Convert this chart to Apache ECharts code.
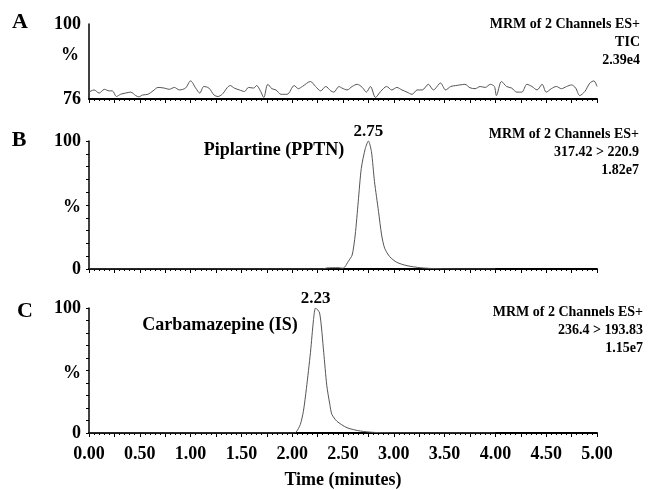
<!DOCTYPE html>
<html>
<head>
<meta charset="utf-8">
<script src="https://cdn.jsdelivr.net/npm/echarts@6/dist/echarts.min.js"></script>
<style>
  html, body { margin: 0; padding: 0; background: #fff; }
  #chart { width: 649px; height: 490px; }
</style>
</head>
<body>
<div id="chart"></div>
<script>
// 色谱数据（从图上读出来的）
var timeA = [0.00, 0.05, 0.10, 0.15, 0.20, 0.23, 0.27, 0.31, 0.36, 0.41, 0.46, 0.49, 0.53, 0.58, 0.63, 0.68, 0.74, 0.79, 0.84, 0.89,
  0.95, 1.00, 1.05, 1.09, 1.13, 1.18, 1.23, 1.27, 1.31, 1.39, 1.43, 1.48, 1.53, 1.57, 1.62, 1.65, 1.69, 1.72, 1.76, 1.80,
  1.84, 1.89, 1.95, 2.02, 2.06, 2.10, 2.18, 2.23, 2.28, 2.33, 2.38, 2.41, 2.46, 2.49, 2.54, 2.59, 2.64, 2.69, 2.73, 2.77,
  2.82, 2.87, 2.93, 2.98, 3.03, 3.08, 3.13, 3.18, 3.23, 3.28, 3.34, 3.39, 3.46, 3.51, 3.56, 3.61, 3.65, 3.70, 3.75, 3.80,
  3.85, 3.90, 3.95, 3.99, 4.01, 4.06, 4.11, 4.16, 4.21, 4.26, 4.31, 4.36, 4.41, 4.46, 4.50, 4.55, 4.60, 4.65, 4.70, 4.75,
  4.79, 4.83, 4.88, 4.93, 4.97, 5.00];
var ticA = [78.2, 78.9, 77.9, 79.1, 78.6, 78.6, 76.8, 77.5, 77.9, 78.2, 77.1, 76.7, 77.3, 77.5, 78.6, 79.7, 79.5, 79.1, 79.7, 78.9,
  79.5, 81.8, 79.5, 77.9, 80.0, 79.5, 77.3, 76.8, 77.5, 80.3, 79.5, 78.9, 78.4, 79.7, 79.5, 80.3, 78.4, 76.5, 80.7, 79.3,
  78.9, 77.5, 77.5, 80.3, 79.3, 80.0, 81.6, 80.0, 78.6, 80.0, 78.6, 78.2, 80.0, 79.5, 78.9, 80.0, 80.7, 79.7, 78.2, 80.0,
  76.5, 78.4, 80.0, 78.9, 79.7, 78.9, 78.2, 77.5, 78.9, 78.9, 80.7, 78.9, 81.1, 78.9, 80.0, 80.3, 80.5, 80.7, 79.6, 79.3,
  80.0, 79.7, 80.7, 80.0, 77.1, 81.6, 80.0, 79.5, 78.2, 78.2, 80.7, 80.0, 78.9, 80.7, 78.2, 79.3, 80.0, 79.3, 80.0, 80.5,
  79.5, 77.1, 78.4, 81.1, 81.8, 80.0];

var timeB = [0.00, 2.30, 2.34, 2.45, 2.50, 2.52, 2.55, 2.59, 2.62, 2.65, 2.68, 2.72, 2.75, 2.78, 2.81, 2.85, 2.88, 2.91, 2.96, 3.03,
  3.13, 3.26, 3.40, 3.60, 4.00];
var pptnB = [0, 0, 0.8, 1.0, 0.6, 1.8, 5.7, 10.9, 26.6, 52.6, 78.6, 94.3, 100, 91.6, 68.2, 44.8, 26.6, 16.2, 9.6, 5.2,
  2.6, 1.0, 0.3, 0, 0];

var timeC = [0.00, 2.02, 2.04, 2.08, 2.11, 2.14, 2.18, 2.21, 2.23, 2.27, 2.31, 2.34, 2.37, 2.39, 2.44, 2.54, 2.67, 2.80, 3.00, 4.00];
var isC = [0, 0, 0.8, 6.8, 17.3, 35.7, 64.6, 90.8, 100, 96, 64.6, 38.3, 23, 15, 9.4, 4.2, 1.6, 0.5, 0.1, 0];

var peakB = [2.75, 100];
var peakC = [2.23, 100];
var xLabelStep = 0.5;
var infoA = ['MRM of 2 Channels ES+', 'TIC', '2.39e4'];
var infoB = ['MRM of 2 Channels ES+', '317.42 > 220.9', '1.82e7'];
var infoC = ['MRM of 2 Channels ES+', '236.4 > 193.83', '1.15e7'];

var FONT = "'Liberation Serif', 'Times New Roman', serif";

function pairs(xs, ys) {
  return xs.map(function (x, i) { return [x, ys[i]]; });
}

var chart = echarts.init(document.getElementById('chart'));

function xAxisOf(idx, showLabel) {
  return {
    type: 'value', gridIndex: idx, min: 0, max: 5, interval: 0.25,
    axisLine: { show: true, onZero: false, lineStyle: { color: '#000', width: 2 } },
    axisTick: { show: true, length: 4, lineStyle: { color: '#000', width: 1 } },
    minorTick: { show: true, splitNumber: 5, length: 2, lineStyle: { color: '#000', width: 1 } },
    splitLine: { show: false },
    axisLabel: {
      show: showLabel, margin: 12, color: '#000', fontFamily: FONT, fontWeight: 'bold', fontSize: 18,
      formatter: function (v) {
        return Math.abs(v / xLabelStep - Math.round(v / xLabelStep)) < 1e-6 ? v.toFixed(2) : '';
      }
    }
  };
}

function yAxisOf(idx, min, max, interval, showTick) {
  return {
    type: 'value', gridIndex: idx, min: min, max: max, interval: interval,
    axisLine: { show: true, lineStyle: { color: '#000', width: 1.5 } },
    axisTick: { show: showTick, length: 3, lineStyle: { color: '#000' } },
    splitLine: { show: false },
    axisLabel: {
      margin: 8, color: '#000', fontFamily: FONT, fontWeight: 'bold', fontSize: 18,
      formatter: function (v) { return (v === min || v === max) ? String(v) : ''; }
    }
  };
}

function label(x, y, s, size, align) {
  return {
    type: 'text', x: x, y: y,
    style: {
      text: s, fill: '#000', font: 'bold ' + size + 'px ' + FONT,
      textAlign: align || 'center', textVerticalAlign: 'middle'
    }
  };
}

function info(lines, right, y0) {
  return lines.map(function (s, i) {
    return label(right, y0 + i * 18, s, 14, 'right');
  });
}

var xAxisC = xAxisOf(2, true);
xAxisC.name = 'Time (minutes)';
xAxisC.nameLocation = 'middle';
xAxisC.nameGap = 38;
xAxisC.nameTextStyle = { color: '#000', fontFamily: FONT, fontWeight: 'bold', fontSize: 18 };

var lineStyle = { color: '#555', width: 1 };

function peakMark(pt) {
  return {
    symbol: 'circle', symbolSize: 0,
    label: {
      show: true, position: 'top', distance: 1, color: '#000', fontFamily: FONT, fontWeight: 'bold', fontSize: 17,
      formatter: function (p) { return p.value; }
    },
    data: [{ coord: pt, value: pt[0].toFixed(2) }]
  };
}

var option = {
  animation: false,
  backgroundColor: '#fff',
  grid: [
    { left: 89, right: 52, top: 24, height: 75 },
    { left: 89, right: 52, top: 141, height: 128 },
    { left: 89, right: 52, top: 308, height: 127 }
  ],
  xAxis: [xAxisOf(0, false), xAxisOf(1, false), xAxisC],
  yAxis: [yAxisOf(0, 76, 100, 24, false), yAxisOf(1, 0, 100, 10, true), yAxisOf(2, 0, 100, 10, true)],
  series: [
    {
      type: 'line', xAxisIndex: 0, yAxisIndex: 0, data: pairs(timeA, ticA),
      showSymbol: false, smooth: 0.3, lineStyle: lineStyle
    },
    {
      type: 'line', xAxisIndex: 1, yAxisIndex: 1, data: pairs(timeB, pptnB),
      showSymbol: false, smooth: 0.25, lineStyle: lineStyle,
      markPoint: peakMark(peakB)
    },
    {
      type: 'line', xAxisIndex: 2, yAxisIndex: 2, data: pairs(timeC, isC),
      showSymbol: false, smooth: 0.25, lineStyle: lineStyle,
      markPoint: peakMark(peakC)
    }
  ],
  graphic: [
    label(20, 22, 'A', 22),
    label(19, 140, 'B', 22),
    label(25, 311, 'C', 22),
    label(70, 55, '%', 18),
    label(72, 207, '%', 18),
    label(72, 373, '%', 18),
    label(274, 150, 'Piplartine (PPTN)', 18),
    label(220, 325, 'Carbamazepine (IS)', 18)
  ].concat(info(infoA, 640, 24), info(infoB, 639, 134), info(infoC, 643, 312))
};

chart.setOption(option);
</script>
</body>
</html>
